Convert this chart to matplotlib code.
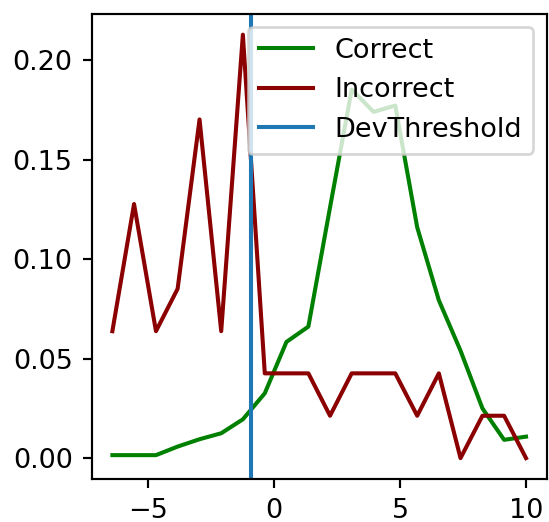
import matplotlib
matplotlib.use("Agg")
import matplotlib.pyplot as plt

x_vals = [-6.42, -5.56, -4.69, -3.83, -2.96, -2.10, -1.24, -0.37, 0.49, 1.36,
          2.22, 3.08, 3.95, 4.81, 5.68, 6.54, 7.40, 8.27, 9.13, 10.00]
correct = [0.0015, 0.0015, 0.0015, 0.0058, 0.0095, 0.0125, 0.0195, 0.0326, 0.0584, 0.0661,
           0.126, 0.1852, 0.1740, 0.1772, 0.116, 0.0793, 0.054, 0.025, 0.0092, 0.0108]
incorrect = [0.0638, 0.1277, 0.0638, 0.0851, 0.1702, 0.0638, 0.2128, 0.0426, 0.0426, 0.0426,
             0.0213, 0.0426, 0.0426, 0.0426, 0.0213, 0.0426, 0.0, 0.0213, 0.0213, 0.0]
threshold = -0.91
labels = ["Correct", "Incorrect", "DevThreshold"]

DPI = 195
fig = plt.figure(figsize=(549 / DPI, 522 / DPI), dpi=DPI)
ax = fig.add_subplot(111)
fig.subplots_adjust(left=91.7 / 549, right=546.7 / 549, top=1 - 13.5 / 522, bottom=1 - 479.3 / 522)

ax.plot(x_vals, correct, color="green", label=labels[0])
ax.plot(x_vals, incorrect, color="darkred", label=labels[1])
ax.axvline(threshold, color="#1f77b4", label=labels[2])
ax.legend(loc="upper right")

fig.savefig("out.png", dpi=DPI)
